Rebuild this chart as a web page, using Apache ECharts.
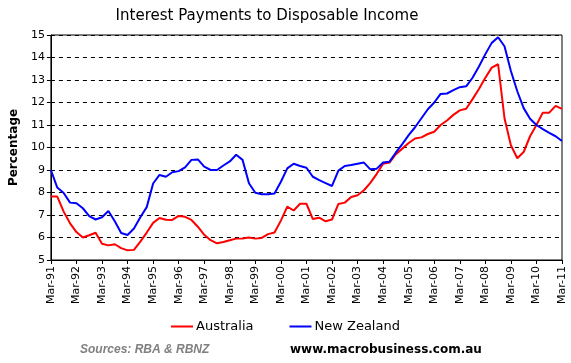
<!DOCTYPE html>
<html>
<head>
<meta charset="utf-8">
<script src="https://cdn.jsdelivr.net/npm/echarts@6/dist/echarts.min.js"></script>
<style>html,body{margin:0;padding:0;background:#fff}#c{width:571px;height:363px}</style>
</head>
<body>
<div id="c"></div>
<script>
var years = ['91','92','93','94','95','96','97','98','99','00','01','02','03','04','05','06','07','08','09','10','11'];
var months = ['Mar','Jun','Sep','Dec'];
var categories = [];
years.forEach(function (y, k) {
  months.forEach(function (m, j) {
    if (k < years.length - 1 || j === 0) categories.push(m + '-' + y);
  });
});
var australia = [7.82,7.82,7.15,6.63,6.24,6.00,6.10,6.21,5.72,5.65,5.70,5.53,5.43,5.45,5.82,6.22,
  6.65,6.87,6.79,6.78,6.96,6.92,6.78,6.48,6.12,5.88,5.74,5.80,5.88,5.95,5.96,6.00,
  5.95,5.98,6.15,6.22,6.75,7.37,7.20,7.50,7.50,6.82,6.88,6.72,6.80,7.49,7.55,7.80,
  7.88,8.10,8.43,8.83,9.28,9.33,9.70,9.95,10.20,10.40,10.45,10.60,10.70,11.00,11.20,11.45,
  11.65,11.72,12.15,12.60,13.10,13.55,13.70,11.30,10.10,9.52,9.80,10.50,11.00,11.55,11.55,11.85,11.72];
var newZealand = [9.00,8.22,7.98,7.55,7.52,7.30,6.95,6.80,6.90,7.18,6.72,6.20,6.11,6.40,6.90,7.35,
  8.40,8.78,8.70,8.90,8.95,9.12,9.45,9.47,9.15,9.00,9.00,9.20,9.38,9.68,9.45,8.41,
  7.99,7.92,7.92,7.96,8.48,9.07,9.28,9.18,9.10,8.70,8.55,8.42,8.29,8.97,9.18,9.22,
  9.28,9.33,9.03,9.06,9.33,9.37,9.78,10.15,10.55,10.90,11.30,11.70,12.00,12.38,12.40,12.55,
  12.68,12.72,13.10,13.60,14.15,14.65,14.90,14.50,13.40,12.50,11.75,11.28,11.00,10.82,10.65,10.50,10.29];
var seriesNames = ['Australia','New Zealand'];
var yTicks = [5,6,7,8,9,10,11,12,13,14,15];

var chart = echarts.init(document.getElementById('c'), null, {renderer:'canvas'});
var font = 'Tahoma, "DejaVu Sans", sans-serif';
chart.setOption({
  animation: false,
  title: {
    text: 'Interest Payments to Disposable Income',
    left: 262, top: 4, textAlign: 'center',
    textStyle: {fontFamily: '"DejaVu Sans", sans-serif', fontSize: 15, fontWeight: 'normal', color: '#000'}
  },
  legend: {
    data: seriesNames,
    left: 166, top: 315,
    itemWidth: 22, itemHeight: 2, itemGap: 36,
    icon: 'rect',
    textStyle: {fontFamily: '"DejaVu Sans", sans-serif', fontSize: 13, color: '#000', padding: [0,0,0,-2]}
  },
  grid: {left: 48, right: 9, top: 35, bottom: 103, show: true, borderColor: '#000', borderWidth: 1, backgroundColor: '#fff'},
  xAxis: {
    type: 'category', data: categories, boundaryGap: false,
    axisLine: {lineStyle: {color: '#000', width: 1}},
    axisTick: {interval: 3, length: 4, lineStyle: {color: '#000'}},
    axisLabel: {interval: 3, rotate: 90, fontFamily: font, fontSize: 11, color: '#000', margin: 6},
    splitLine: {show: false}
  },
  yAxis: {
    type: 'value', min: yTicks[0], max: yTicks[yTicks.length - 1], interval: 1,
    name: 'Percentage', nameLocation: 'middle', nameGap: 30, nameRotate: 90,
    nameTextStyle: {fontFamily: font, fontSize: 12, fontWeight: 'bold', color: '#000'},
    axisLine: {show: true, lineStyle: {color: '#000'}},
    axisTick: {show: true, length: 4, lineStyle: {color: '#000'}},
    axisLabel: {fontFamily: font, fontSize: 11, color: '#000', margin: 6},
    splitLine: {show: true, lineStyle: {color: '#000', type: [4,4], width: 1}}
  },
  series: [
    {name: seriesNames[0], type: 'line', data: australia, showSymbol: false, symbol: 'none', lineStyle: {color: '#ff0000', width: 2}, itemStyle: {color: '#ff0000'}},
    {name: seriesNames[1], type: 'line', data: newZealand, showSymbol: false, symbol: 'none', lineStyle: {color: '#0000ff', width: 2}, itemStyle: {color: '#0000ff'}}
  ],
  graphic: [
    {type: 'text', left: 80, top: 344, style: {text: 'Sources: RBA & RBNZ', font: 'italic bold 12px "Liberation Sans", Arial, sans-serif', fill: '#808080'}},
    {type: 'text', left: 290, top: 344, style: {text: 'www.macrobusiness.com.au', font: 'bold 12px "DejaVu Sans", sans-serif', fill: '#000'}}
  ]
});
</script>
</body>
</html>
